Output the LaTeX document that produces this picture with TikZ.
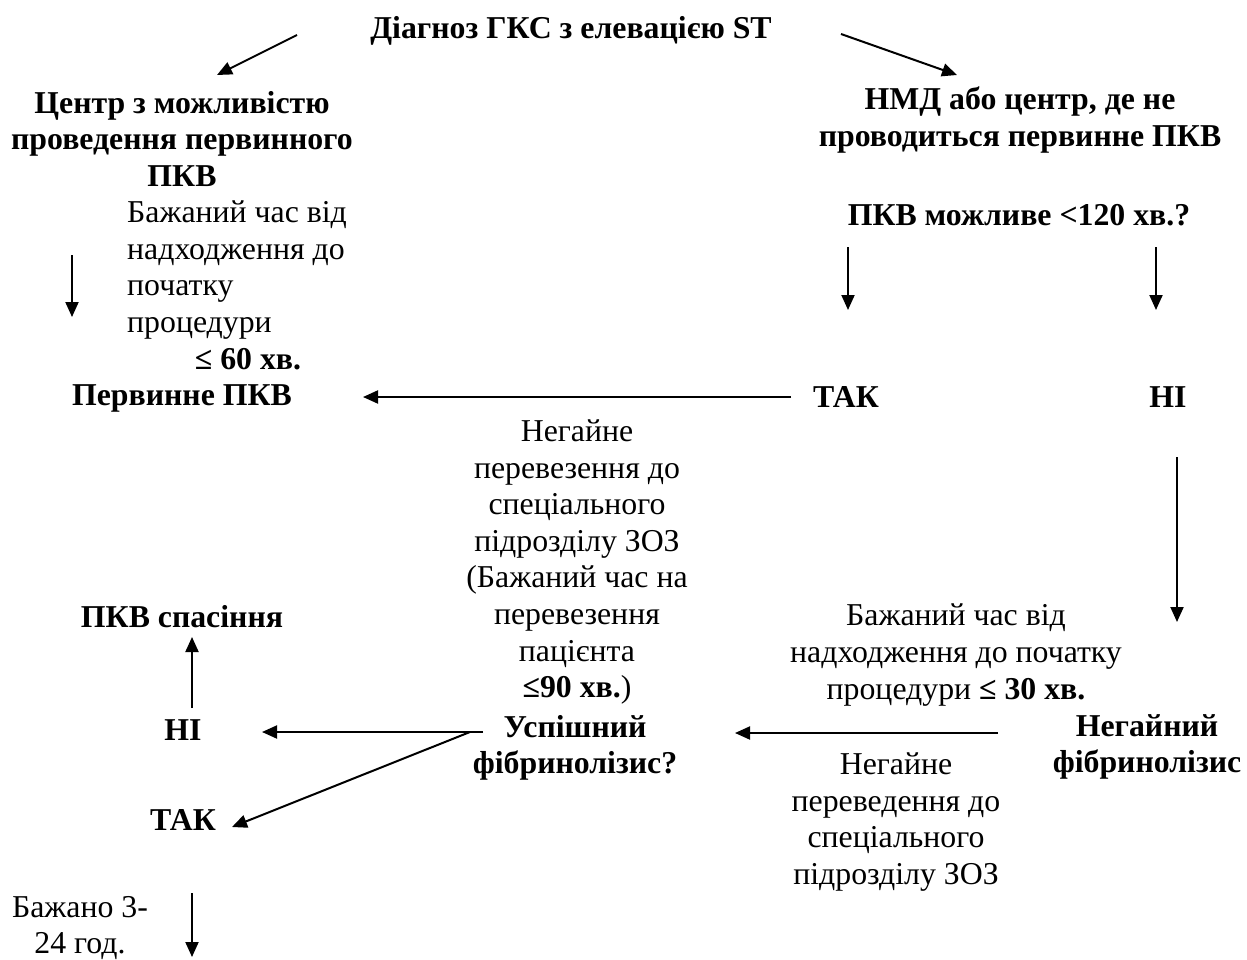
\documentclass[tikz,border=0pt]{standalone}
\usepackage{fontspec}
\setmainfont{Liberation Serif}
\usetikzlibrary{arrows.meta}
\begin{document}
\begin{tikzpicture}[x=1pt,y=-1pt,
  txt/.style={inner sep=0pt,align=center,font=\fontsize{31.8}{36.6}\selectfont},
  btxt/.style={txt,font=\fontsize{31.8}{36.6}\selectfont\bfseries},
  arr/.style={line width=2pt,-{Triangle[length=15pt,width=13pt]}}]
\useasboundingbox (0,0) rectangle (1247,960);
% nodes
\node[btxt] (title) at (571,31) {Діагноз ГКС з елевацією ST};
\node[btxt] (centerA) at (182,139) {Центр з можливістю\\проведення первинного\\ПКВ};
\node[txt,align=left,anchor=west] (wishA) at (127,270) {Бажаний час від\\надходження до\\початку\\процедури};
\node[btxt] (le60) at (248,359) {≤ 60 хв.};
\node[btxt] (primary) at (182,398) {Первинне ПКВ};
\node[btxt] (nmd) at (1020,120) {НМД або центр, де не\\проводиться первинне ПКВ};
\node[btxt] (q120) at (1019,215) {ПКВ можливе <120 хв.?};
\node[btxt] (tak1) at (846,397) {ТАК};
\node[btxt] (ni1) at (1168,397) {НІ};
\node[txt] (transfer) at (577,562) {Негайне\\перевезення до\\спеціального\\підрозділу ЗОЗ\\(Бажаний час на\\перевезення\\пацієнта\\\textbf{≤90 хв.})};
\node[btxt] (success) at (575,748) {Успішний\\фібринолізис?};
\node[btxt] (rescue) at (182,617) {ПКВ спасіння};
\node[btxt] (ni2) at (183,730) {НІ};
\node[btxt] (tak2) at (183,820) {ТАК};
\node[txt] (wish3) at (80,928) {Бажано 3-\\24 год.};
\node[txt] (wishB) at (956,655) {Бажаний час від\\надходження до початку\\процедури \textbf{≤ 30 хв.}};
\node[btxt] (fib) at (1147,747) {Негайний\\фібринолізис};
\node[txt] (transfer2) at (896,822) {Негайне\\переведення до\\спеціального\\підрозділу ЗОЗ};
% connector end points
\coordinate (a1s) at (297,35);   \coordinate (a1e) at (217,75);
\coordinate (a2s) at (841,34);   \coordinate (a2e) at (957,75);
\coordinate (a3s) at (72,255);   \coordinate (a3e) at (72,317);
\coordinate (a4s) at (848,247);  \coordinate (a4e) at (848,310);
\coordinate (a5s) at (1156,247); \coordinate (a5e) at (1156,310);
\coordinate (a6s) at (791,397);  \coordinate (a6e) at (363,397);
\coordinate (a7s) at (1177,457); \coordinate (a7e) at (1177,622);
\coordinate (a8s) at (998,733);  \coordinate (a8e) at (735,733);
\coordinate (a9s) at (483,732);  \coordinate (a9e) at (262,732);
\coordinate (a10s) at (470,732); \coordinate (a10e) at (232,827);
\coordinate (a11s) at (192,708); \coordinate (a11e) at (192,637);
\coordinate (a12s) at (192,893); \coordinate (a12e) at (192,957);
% connectors
\draw[arr] (a1s) -- (a1e);
\draw[arr] (a2s) -- (a2e);
\draw[arr] (a3s) -- (a3e);
\draw[arr] (a4s) -- (a4e);
\draw[arr] (a5s) -- (a5e);
\draw[arr] (a6s) -- (a6e);
\draw[arr] (a7s) -- (a7e);
\draw[arr] (a8s) -- (a8e);
\draw[arr] (a9s) -- (a9e);
\draw[arr] (a10s) -- (a10e);
\draw[arr] (a11s) -- (a11e);
\draw[arr] (a12s) -- (a12e);
\end{tikzpicture}
\end{document}
